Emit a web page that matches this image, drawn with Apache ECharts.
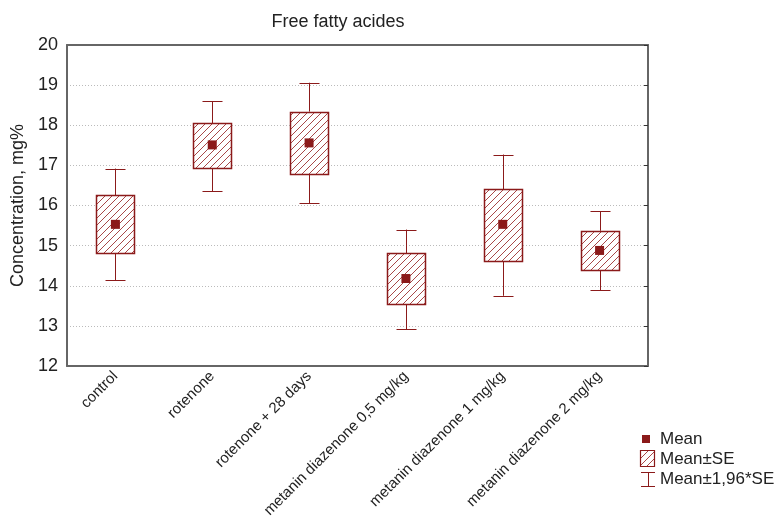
<!DOCTYPE html>
<html><head><meta charset="utf-8">
<script src="https://cdn.jsdelivr.net/npm/echarts@6/dist/echarts.min.js"></script>
<style>html,body{margin:0;padding:0;background:#fff}#c{width:774px;height:523px}</style>
</head><body><div id="c"></div>
<script>
const categories = ['control','rotenone','rotenone + 28 days','metanin diazenone 0,5 mg/kg','metanin diazenone 1 mg/kg','metanin diazenone 2 mg/kg'];
const means   = [15.53, 17.51, 17.56, 14.18, 15.53, 14.88];
const seLow   = [14.81, 16.93, 16.78, 13.54, 14.62, 14.39];
const seHigh  = [16.25, 18.05, 18.34, 14.81, 16.40, 15.37];
const ciLow   = [14.14, 16.35, 16.06, 12.92, 13.75, 13.89];
const ciHigh  = [16.92, 18.60, 19.06, 15.40, 17.27, 15.86];
const yTicks  = [12,13,14,15,16,17,18,19,20];

const RED = '#8b1a1a';
const HATCH = '#a84848';
const pc = document.createElement('canvas');
pc.width = 7; pc.height = 7;
const g = pc.getContext('2d');
g.fillStyle = '#fff'; g.fillRect(0,0,7,7);
g.strokeStyle = HATCH; g.lineWidth = 1;
g.beginPath();
g.moveTo(-1,8); g.lineTo(8,-1);
g.moveTo(-8,8); g.lineTo(1,-1);
g.moveTo(6,8); g.lineTo(15,-1);
g.stroke();
const hatch = {image: pc, repeat: 'repeat'};

const chart = echarts.init(document.getElementById('c'));
const font = 'Liberation Sans, Arial, sans-serif';
const boxData = categories.map((c,i)=>[i, seLow[i], seHigh[i]]);
const whiskData = categories.map((c,i)=>[i, ciLow[i], ciHigh[i], seLow[i], seHigh[i]]);

chart.setOption({
  animation: false,
  title: {text: 'Free fatty acides', left: 333, top: 8, textAlign: 'center',
    textStyle: {fontFamily: font, fontSize: 18, fontWeight: 'normal', color: '#222'}},
  grid: {left: 67, right: 126, top: 45, bottom: 157, containLabel: false, outerBoundsMode: 'none'},
  xAxis: [{
    type: 'category', data: categories, boundaryGap: true,
    axisLine: {lineStyle: {color: '#666', width: 2}},
    axisTick: {inside: true, alignWithLabel: true, length: 4, lineStyle: {color: '#333'}},
    axisLabel: {rotate: 45, fontFamily: font, fontSize: 15, color: '#222', margin: 8, interval: 0},
    splitLine: {show: false}
  },{
    type: 'category', data: categories, position: 'top',
    axisLine: {lineStyle: {color: '#666', width: 2}},
    axisTick: {inside: true, alignWithLabel: true, length: 4, lineStyle: {color: '#333'}},
    axisLabel: {show: false}
  }],
  yAxis: [{
    type: 'value', min: 12, max: 20, interval: 1,
    name: 'Concentration, mg%', nameLocation: 'middle', nameGap: 37,
    nameTextStyle: {fontFamily: font, fontSize: 18, color: '#222'},
    axisLine: {show: true, lineStyle: {color: '#666', width: 2}},
    axisTick: {inside: true, length: 4, lineStyle: {color: '#333'}},
    axisLabel: {fontFamily: font, fontSize: 18, color: '#222', margin: 9,
      formatter: v => yTicks.includes(v) ? String(v) : ''},
    splitLine: {show: true, lineStyle: {color: '#bbb', type: [1,2], width: 1}}
  },{
    type: 'value', min: 12, max: 20, interval: 1, position: 'right',
    axisLine: {show: true, lineStyle: {color: '#666', width: 2}},
    axisTick: {show: true, inside: true, length: 4, lineStyle: {color: '#333'}},
    axisLabel: {show: false}, splitLine: {show: false}
  }],
  series: [
    {
      type: 'custom', name: 'whisker', data: whiskData, z: 2,
      renderItem: (params, api) => {
        const x = api.value(0);
        const lo = api.coord([x, api.value(1)]);
        const hi = api.coord([x, api.value(2)]);
        const bl = api.coord([x, api.value(3)]);
        const bh = api.coord([x, api.value(4)]);
        const cx = Math.round(lo[0]) + 0.5;
        const hw = 10;
        const st = {stroke: RED, lineWidth: 1};
        return {type: 'group', children: [
          {type: 'line', shape: {x1: cx, y1: hi[1], x2: cx, y2: bh[1]}, style: st},
          {type: 'line', shape: {x1: cx, y1: bl[1], x2: cx, y2: lo[1]}, style: st},
          {type: 'line', shape: {x1: cx-hw, y1: Math.round(hi[1])+0.5, x2: cx+hw, y2: Math.round(hi[1])+0.5}, style: st},
          {type: 'line', shape: {x1: cx-hw, y1: Math.round(lo[1])+0.5, x2: cx+hw, y2: Math.round(lo[1])+0.5}, style: st}
        ]};
      }
    },
    {
      type: 'custom', name: 'box', data: boxData, z: 3,
      renderItem: (params, api) => {
        const x = api.value(0);
        const lo = api.coord([x, api.value(1)]);
        const hi = api.coord([x, api.value(2)]);
        const cx = Math.round(lo[0]) + 0.5;
        const w = 38;
        return {type: 'rect',
          shape: {x: cx - w/2, y: Math.round(hi[1])+0.5, width: w, height: Math.round(lo[1]) - Math.round(hi[1])},
          style: {fill: hatch, stroke: RED, lineWidth: 1.5}};
      }
    },
    {
      type: 'scatter', name: 'Mean', data: means.map((m,i)=>[i,m]), z: 4,
      symbol: 'rect', symbolSize: 9, itemStyle: {color: RED, opacity: 1}
    }
  ],
  graphic: [
    {type: 'rect', shape: {x: 642, y: 435, width: 8, height: 8}, style: {fill: RED}},
    {type: 'text', x: 660, y: 439, style: {text: 'Mean', font: '17px ' + font, fill: '#222', textVerticalAlign: 'middle'}},
    {type: 'rect', shape: {x: 640.5, y: 450.5, width: 14, height: 16}, style: {fill: hatch, stroke: RED, lineWidth: 1.2}},
    {type: 'text', x: 660, y: 459, style: {text: 'Mean±SE', font: '17px ' + font, fill: '#222', textVerticalAlign: 'middle'}},
    {type: 'line', shape: {x1: 641, y1: 472.5, x2: 655, y2: 472.5}, style: {stroke: RED, lineWidth: 1}},
    {type: 'line', shape: {x1: 648.5, y1: 472.5, x2: 648.5, y2: 486.5}, style: {stroke: RED, lineWidth: 1}},
    {type: 'line', shape: {x1: 641, y1: 486.5, x2: 655, y2: 486.5}, style: {stroke: RED, lineWidth: 1}},
    {type: 'text', x: 660, y: 479, style: {text: 'Mean±1,96*SE', font: '17px ' + font, fill: '#222', textVerticalAlign: 'middle'}}
  ]
});
</script></body></html>
